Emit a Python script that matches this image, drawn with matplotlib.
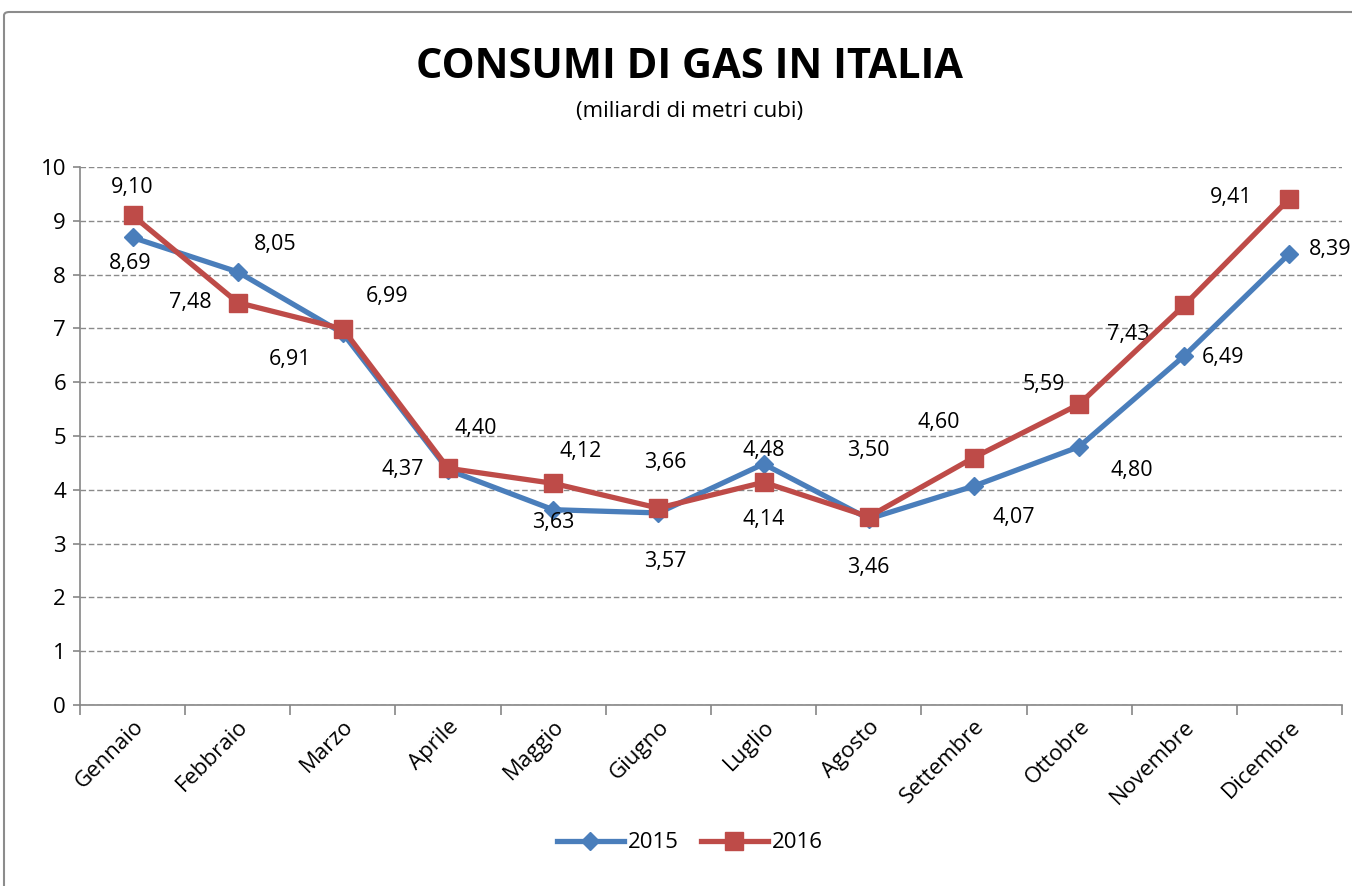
import matplotlib.pyplot as plt
from matplotlib.patches import FancyBboxPatch
import numpy as np

months = ["Gennaio", "Febbraio", "Marzo", "Aprile", "Maggio", "Giugno",
          "Luglio", "Agosto", "Settembre", "Ottobre", "Novembre", "Dicembre"]
gas_2015 = [8.69, 8.05, 6.91, 4.37, 3.63, 3.57, 4.48, 3.46, 4.07, 4.80, 6.49, 8.39]
gas_2016 = [9.10, 7.48, 6.99, 4.40, 4.12, 3.66, 4.14, 3.50, 4.60, 5.59, 7.43, 9.41]

# label offsets in points (dx, dy) per point
off_2015 = [(-2, -19), (27, 20), (-38, -19), (-33, 0), (0, -9), (5, -35),
            (0, 10), (0, -35), (29, -23), (38, -17), (28, -1), (29, 3)]
off_2016 = [(0, 20), (-34, 0), (32, 23), (20, 29), (20, 23), (5, 33),
            (0, -27), (0, 48), (-25, 25), (-25, 14), (-40, -21), (-42, 1)]

plt.rcParams['font.family'] = ['Open Sans', 'DejaVu Sans']

fig = plt.figure(figsize=(13.52, 8.86), dpi=100)
frame = FancyBboxPatch((4 / 1352, -0.02), 1.1, 1 - 12 / 886 + 0.02,
                       boxstyle="round,pad=0,rounding_size=0.004",
                       transform=fig.transFigure, fill=False,
                       edgecolor="#8c8c8c", linewidth=1.5)
fig.patches.append(frame)

ax = fig.add_axes([80 / 1352, 1 - 705 / 886, 1262 / 1352, 538 / 886])
x = np.arange(len(months))

blue = "#4a7ebb"
red = "#be4b48"
ax.plot(x, gas_2015, color=blue, lw=3.8, marker="D", ms=9, label="2015", zorder=3)
ax.plot(x, gas_2016, color=red, lw=3.8, marker="s", ms=12.5, label="2016", zorder=4)

for xi, v, (dx, dy) in zip(x, gas_2015, off_2015):
    ax.annotate(f"{v:.2f}".replace(".", ","), (xi, v), xytext=(dx, dy),
                textcoords="offset points", ha="center", va="center", fontsize=15.5)
for xi, v, (dx, dy) in zip(x, gas_2016, off_2016):
    ax.annotate(f"{v:.2f}".replace(".", ","), (xi, v), xytext=(dx, dy),
                textcoords="offset points", ha="center", va="center", fontsize=15.5)

ax.set_xlim(-0.5, 11.5)
ax.set_ylim(0, 10)
ax.set_yticks(range(0, 11))
ax.yaxis.grid(True, linestyle=(0, (4, 2)), color="#8a8a8a", lw=1)
ax.set_axisbelow(True)

ax.set_xticks(x)
ax.set_xticklabels(months, rotation=45, ha="right", rotation_mode="anchor", fontsize=16)
ax.set_xticks(np.arange(-0.5, 12, 1), minor=True)
ax.tick_params(axis="x", which="major", length=0, pad=8)
ax.tick_params(axis="x", which="minor", length=7, color="#868686", width=1.2)
ax.tick_params(axis="y", length=5, color="#868686", width=1.2, labelsize=16, pad=5)

for side in ("top", "right"):
    ax.spines[side].set_visible(False)
for side in ("left", "bottom"):
    ax.spines[side].set_color("#868686")
    ax.spines[side].set_linewidth(1.2)

fig.text(690 / 1352, 1 - 68 / 886, "CONSUMI DI GAS IN ITALIA", ha="center", va="center",
         fontsize=30, fontweight="bold")
fig.text(690 / 1352, 1 - 112 / 886, "(miliardi di metri cubi)", ha="center", va="center",
         fontsize=16)

fig.legend(loc="center", bbox_to_anchor=(690 / 1352, 1 - 843 / 886), ncol=2,
           frameon=False, fontsize=16, handlelength=3.0, columnspacing=1.0,
           handletextpad=0.2)

fig.savefig("out.png", dpi=100)
